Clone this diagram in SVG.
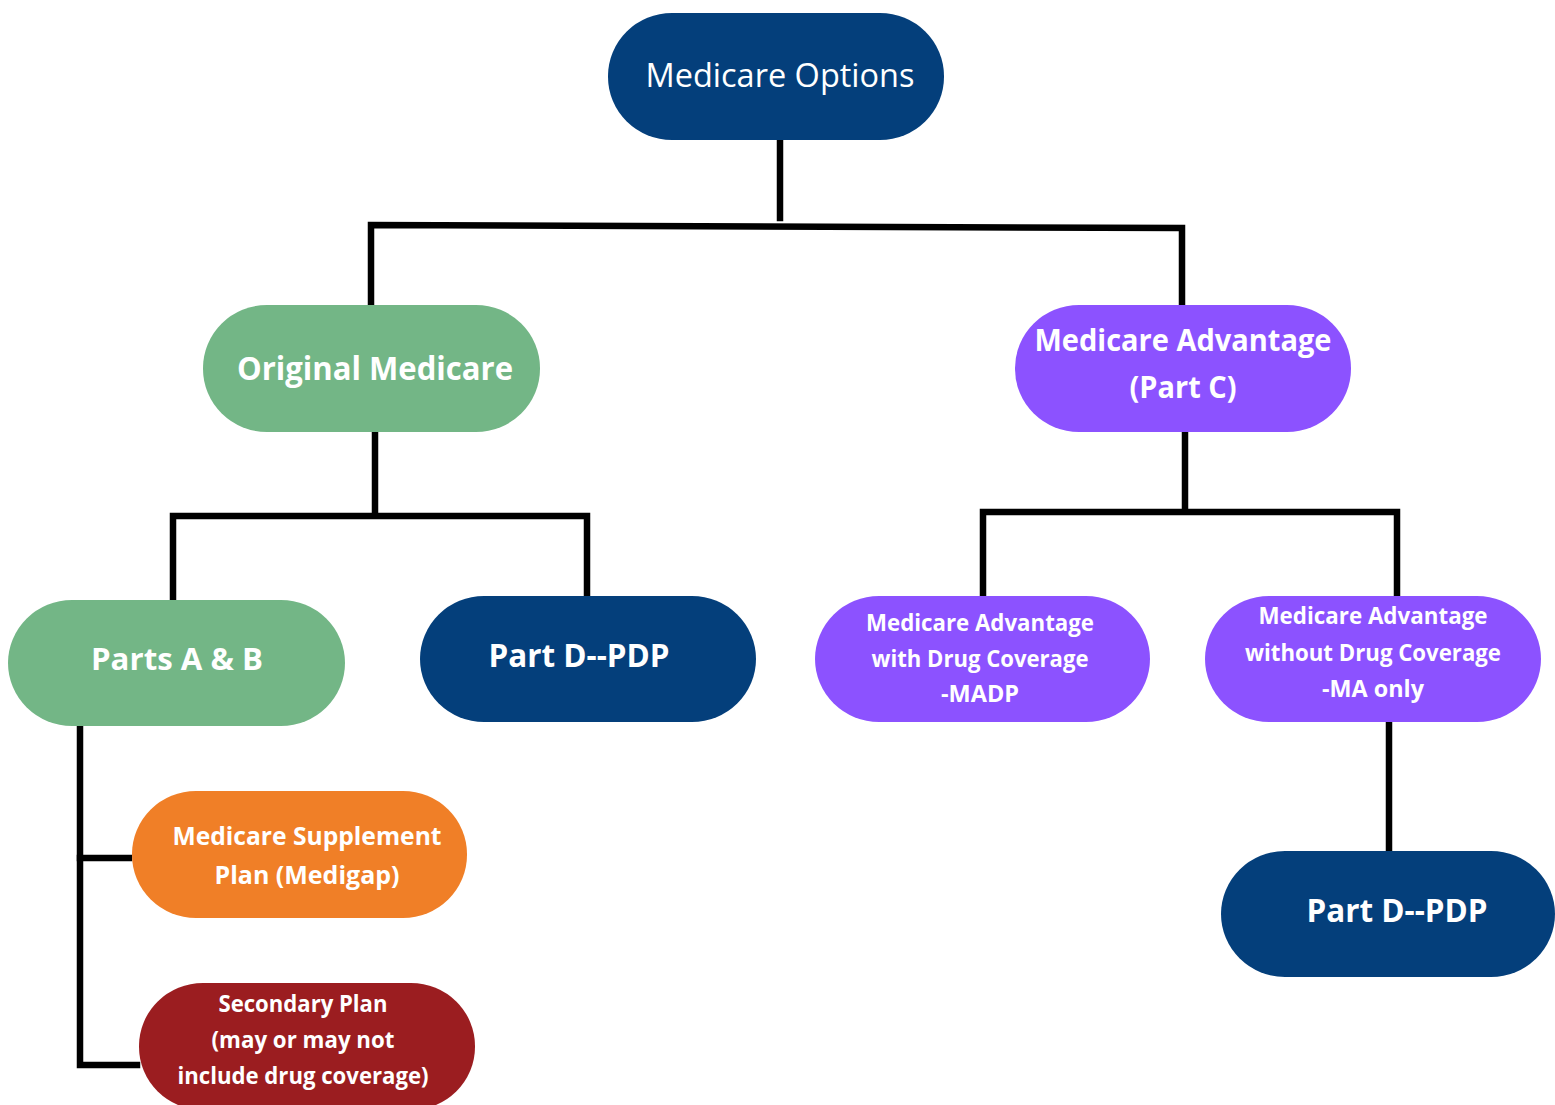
<svg xmlns="http://www.w3.org/2000/svg" width="1555" height="1105" viewBox="0 0 1555 1105">
<style>
.n{stroke:none}
.navy{fill:#043F7B}
.green{fill:#73B686}
.purple{fill:#8C52FF}
.orange{fill:#F07F27}
.red{fill:#9B1D20}
text{fill:#ffffff;font-family:"Open Sans","Noto Sans","Liberation Sans",sans-serif;text-anchor:middle}
.b{font-weight:bold}
.c{fill:none;stroke:#000;stroke-width:6.5;stroke-linecap:square;stroke-linejoin:miter}
</style>
<rect width="1555" height="1105" fill="#ffffff"/>
<g id="connectors">
<path class="c" d="M780 143 V218"/>
<path class="c" d="M371 302 V225 L1182 228 V302"/>
<path class="c" d="M375 435 V515"/>
<path class="c" d="M173 597 V516 H587 V593"/>
<path class="c" d="M1185 433 V511"/>
<path class="c" d="M983 593 V512 H1397 V597"/>
<path class="c" d="M1389 725 V848"/>
<path class="c" d="M80 729 V1065 H137"/>
<path class="c" d="M80 858 H129"/>
</g>
<g id="medicare-options">
<rect class="navy" x="608" y="13" width="336" height="127" rx="64" ry="63"/>
<text x="780" y="87" font-size="33" textLength="269" lengthAdjust="spacingAndGlyphs">Medicare Options</text>
</g>
<g id="original-medicare">
<rect class="green" x="203" y="305" width="337" height="127" rx="64" ry="63"/>
<text class="b" x="375" y="380" font-size="32" textLength="276" lengthAdjust="spacingAndGlyphs">Original Medicare</text>
</g>
<g id="medicare-advantage">
<rect class="purple" x="1015" y="305" width="336" height="127" rx="64" ry="63"/>
<text class="b" x="1183" y="351" font-size="30" textLength="297" lengthAdjust="spacingAndGlyphs">Medicare Advantage</text>
<text class="b" x="1183" y="398" font-size="30" textLength="107" lengthAdjust="spacingAndGlyphs">(Part C)</text>
</g>
<g id="parts-a-b">
<rect class="green" x="8" y="600" width="337" height="126" rx="64" ry="63"/>
<text class="b" x="177" y="670" font-size="31" textLength="172" lengthAdjust="spacingAndGlyphs">Parts A &amp; B</text>
</g>
<g id="part-d-left">
<rect class="navy" x="420" y="596" width="336" height="126" rx="64" ry="63"/>
<text class="b" x="579" y="667" font-size="32" textLength="181" lengthAdjust="spacingAndGlyphs">Part D--PDP</text>
</g>
<g id="madp">
<rect class="purple" x="815" y="596" width="335" height="126" rx="64" ry="63"/>
<text class="b" x="980" y="631" font-size="22.5" textLength="228" lengthAdjust="spacingAndGlyphs">Medicare Advantage</text>
<text class="b" x="980" y="667" font-size="22.5" textLength="217" lengthAdjust="spacingAndGlyphs">with Drug Coverage</text>
<text class="b" x="980" y="702" font-size="22.5" textLength="78" lengthAdjust="spacingAndGlyphs">-MADP</text>
</g>
<g id="ma-only">
<rect class="purple" x="1205" y="596" width="336" height="126" rx="64" ry="63"/>
<text class="b" x="1373" y="624" font-size="22.5" textLength="229" lengthAdjust="spacingAndGlyphs">Medicare Advantage</text>
<text class="b" x="1373" y="661" font-size="22.5" textLength="256" lengthAdjust="spacingAndGlyphs">without Drug Coverage</text>
<text class="b" x="1373" y="697" font-size="22.5" textLength="102" lengthAdjust="spacingAndGlyphs">-MA only</text>
</g>
<g id="part-d-right">
<rect class="navy" x="1221" y="851" width="334" height="126" rx="64" ry="63"/>
<text class="b" x="1397" y="922" font-size="32" textLength="181" lengthAdjust="spacingAndGlyphs">Part D--PDP</text>
</g>
<g id="medigap">
<rect class="orange" x="132" y="791" width="335" height="127" rx="64" ry="63"/>
<text class="b" x="307" y="845" font-size="25" textLength="269" lengthAdjust="spacingAndGlyphs">Medicare Supplement</text>
<text class="b" x="307" y="884" font-size="25" textLength="185" lengthAdjust="spacingAndGlyphs">Plan (Medigap)</text>
</g>
<g id="secondary-plan">
<rect class="red" x="139" y="983" width="336" height="127" rx="64" ry="63"/>
<text class="b" x="303" y="1012" font-size="22.5" textLength="169" lengthAdjust="spacingAndGlyphs">Secondary Plan</text>
<text class="b" x="303" y="1048" font-size="22.5" textLength="183" lengthAdjust="spacingAndGlyphs">(may or may not</text>
<text class="b" x="303" y="1084" font-size="22.5" textLength="251" lengthAdjust="spacingAndGlyphs">include drug coverage)</text>
</g>
</svg>
